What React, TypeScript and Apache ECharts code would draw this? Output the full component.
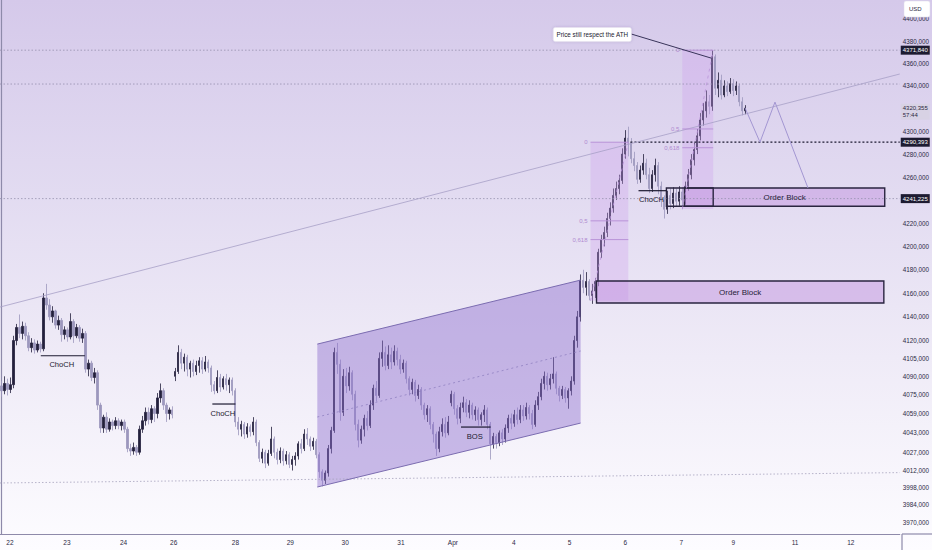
import React, { useEffect, useRef } from 'react';
import * as echarts from 'echarts';

// ---------------- data ----------------
const dayLabels = ['22', '23', '24', '26', '28', '29', '30', '31', 'Apr', '4', '5', '6', '7', '9', '11', '12'];
const dayPositions = [2.8, 21.8, 40.7, 57.4, 78.0, 96.3, 114.6, 133.2, 150.5, 170.8, 189.4, 208.0, 226.7, 244.0, 264.6, 283.2];
const priceTicks = [4400, 4380, 4360, 4340, 4300, 4280, 4260, 4220, 4200, 4180, 4160, 4140, 4120, 4105, 4090, 4075, 4059, 4043, 4027, 4012, 3998, 3984, 3970];
const axisPriceMin = 3960.3;
const axisPriceMax = 4416.9;
const slotCount = 300;

// [open, close, low, high]
const candles: number[][] = [
  [4082, 4078, 4073, 4086], [4078, 4084, 4075, 4090], [4084, 4079, 4074, 4088], [4079, 4083, 4076, 4089],
  [4083, 4120, 4080, 4124], [4120, 4131, 4116, 4134], [4131, 4126, 4122, 4142], [4126, 4132, 4121, 4136],
  [4132, 4124, 4120, 4135], [4124, 4114, 4111, 4127], [4114, 4118, 4110, 4122], [4118, 4112, 4109, 4121],
  [4112, 4117, 4110, 4120], [4117, 4113, 4110, 4119], [4113, 4156, 4111, 4160], [4156, 4150, 4146, 4168],
  [4150, 4140, 4137, 4155], [4140, 4145, 4135, 4149], [4145, 4133, 4130, 4146], [4133, 4137, 4129, 4141],
  [4137, 4125, 4119, 4139], [4125, 4129, 4121, 4132], [4129, 4123, 4119, 4131], [4123, 4136, 4121, 4143],
  [4136, 4124, 4118, 4138], [4124, 4131, 4122, 4134], [4131, 4122, 4119, 4133], [4122, 4126, 4118, 4130],
  [4126, 4096, 4093, 4128], [4096, 4101, 4090, 4104], [4101, 4089, 4086, 4103], [4089, 4093, 4084, 4097],
  [4093, 4066, 4062, 4095], [4066, 4047, 4043, 4068], [4047, 4056, 4043, 4058], [4056, 4046, 4043, 4060],
  [4046, 4052, 4044, 4055], [4052, 4049, 4045, 4054], [4049, 4053, 4046, 4056], [4053, 4049, 4046, 4055],
  [4049, 4052, 4045, 4054], [4052, 4046, 4043, 4054], [4046, 4030, 4027, 4048], [4030, 4028, 4024, 4034],
  [4028, 4031, 4025, 4035], [4031, 4027, 4024, 4033], [4027, 4046, 4025, 4049], [4046, 4053, 4043, 4057],
  [4053, 4060, 4049, 4064], [4060, 4054, 4050, 4064], [4054, 4063, 4051, 4066], [4063, 4059, 4052, 4065],
  [4059, 4072, 4055, 4076], [4072, 4078, 4068, 4084], [4078, 4066, 4062, 4080], [4066, 4059, 4052, 4068],
  [4059, 4062, 4054, 4064], [4062, 4058, 4055, 4065], [4090, 4094, 4086, 4097], [4094, 4110, 4092, 4116],
  [4110, 4101, 4096, 4113], [4101, 4106, 4094, 4109], [4106, 4096, 4090, 4108], [4096, 4101, 4089, 4103],
  [4101, 4094, 4090, 4104], [4094, 4099, 4091, 4103], [4099, 4103, 4093, 4106], [4103, 4096, 4092, 4106],
  [4096, 4102, 4094, 4107], [4102, 4097, 4093, 4104], [4097, 4083, 4077, 4099], [4083, 4078, 4075, 4086],
  [4078, 4089, 4076, 4095], [4089, 4081, 4077, 4092], [4081, 4088, 4079, 4090], [4088, 4083, 4078, 4092],
  [4083, 4087, 4076, 4089], [4087, 4078, 4074, 4089], [4078, 4052, 4048, 4080], [4052, 4046, 4041, 4056],
  [4046, 4050, 4040, 4053], [4050, 4042, 4038, 4052], [4042, 4048, 4039, 4051], [4048, 4044, 4040, 4050],
  [4044, 4052, 4041, 4056], [4052, 4035, 4032, 4054], [4035, 4022, 4019, 4037], [4022, 4027, 4018, 4030],
  [4027, 4018, 4014, 4029], [4018, 4026, 4016, 4029], [4026, 4038, 4024, 4048], [4038, 4027, 4022, 4040],
  [4027, 4021, 4017, 4030], [4021, 4028, 4018, 4031], [4028, 4020, 4016, 4030], [4020, 4025, 4017, 4028],
  [4025, 4017, 4014, 4027], [4017, 4021, 4012, 4024], [4021, 4024, 4016, 4027], [4024, 4034, 4021, 4036],
  [4034, 4030, 4026, 4038], [4030, 4042, 4028, 4046], [4042, 4038, 4033, 4047], [4038, 4032, 4028, 4040],
  [4032, 4036, 4029, 4039], [4036, 4025, 4022, 4038], [4025, 4011, 4006, 4027], [4011, 4004, 3999, 4013],
  [4004, 4010, 4001, 4012], [4010, 4030, 4007, 4033], [4030, 4045, 4026, 4048], [4045, 4110, 4043, 4114],
  [4110, 4100, 4092, 4118], [4100, 4060, 4053, 4104], [4060, 4090, 4057, 4096], [4090, 4082, 4076, 4097],
  [4082, 4093, 4078, 4098], [4093, 4075, 4070, 4095], [4075, 4050, 4045, 4078], [4050, 4037, 4031, 4054],
  [4037, 4046, 4034, 4049], [4046, 4055, 4040, 4058], [4055, 4049, 4045, 4061], [4049, 4066, 4047, 4070],
  [4066, 4080, 4062, 4083], [4080, 4074, 4069, 4086], [4074, 4105, 4072, 4110], [4105, 4110, 4098, 4120],
  [4110, 4099, 4095, 4115], [4099, 4108, 4096, 4116], [4108, 4102, 4096, 4114], [4102, 4111, 4099, 4116],
  [4111, 4104, 4099, 4114], [4104, 4096, 4092, 4108], [4096, 4101, 4093, 4104], [4101, 4088, 4084, 4103],
  [4088, 4079, 4074, 4090], [4079, 4085, 4075, 4088], [4085, 4074, 4069, 4087], [4074, 4079, 4071, 4083],
  [4079, 4066, 4062, 4081], [4066, 4058, 4054, 4068], [4058, 4063, 4052, 4066], [4063, 4050, 4046, 4065],
  [4050, 4042, 4035, 4052], [4042, 4030, 4024, 4044], [4030, 4044, 4027, 4048], [4044, 4050, 4040, 4055],
  [4050, 4043, 4039, 4056], [4043, 4052, 4041, 4057], [4068, 4075, 4065, 4078], [4075, 4063, 4058, 4077],
  [4063, 4055, 4050, 4066], [4055, 4064, 4051, 4068], [4064, 4068, 4060, 4073], [4068, 4060, 4056, 4071],
  [4060, 4066, 4055, 4070], [4066, 4058, 4054, 4068], [4058, 4062, 4053, 4065], [4062, 4054, 4049, 4064],
  [4054, 4058, 4049, 4060], [4058, 4062, 4052, 4066], [4062, 4050, 4046, 4064], [4050, 4034, 4021, 4052],
  [4034, 4040, 4030, 4043], [4040, 4035, 4030, 4042], [4035, 4043, 4032, 4045], [4043, 4038, 4033, 4046],
  [4038, 4047, 4035, 4050], [4047, 4055, 4043, 4058], [4055, 4051, 4046, 4059], [4051, 4058, 4048, 4062],
  [4058, 4054, 4050, 4064], [4054, 4062, 4051, 4066], [4062, 4057, 4053, 4066], [4057, 4064, 4054, 4068],
  [4064, 4059, 4054, 4066], [4059, 4050, 4046, 4062], [4050, 4066, 4048, 4070], [4066, 4073, 4062, 4077],
  [4073, 4084, 4070, 4088], [4084, 4090, 4079, 4094], [4090, 4083, 4078, 4093], [4083, 4088, 4079, 4092],
  [4088, 4092, 4084, 4106], [4092, 4080, 4075, 4094], [4080, 4074, 4069, 4082], [4074, 4079, 4071, 4082],
  [4079, 4072, 4068, 4081], [4072, 4078, 4063, 4080], [4078, 4086, 4074, 4090], [4086, 4120, 4083, 4124],
  [4120, 4140, 4114, 4145], [4140, 4171, 4136, 4176], [4171, 4165, 4160, 4180], [4165, 4170, 4158, 4178],
  [4170, 4158, 4154, 4172], [4158, 4162, 4151, 4168], [4162, 4170, 4156, 4173], [4170, 4195, 4166, 4198],
  [4195, 4206, 4190, 4210], [4206, 4212, 4200, 4217], [4212, 4224, 4208, 4229], [4224, 4233, 4218, 4238],
  [4233, 4244, 4229, 4250], [4244, 4250, 4240, 4256], [4250, 4257, 4245, 4262], [4257, 4280, 4254, 4285],
  [4280, 4294, 4276, 4301], [4294, 4290, 4278, 4304], [4290, 4276, 4272, 4294], [4276, 4270, 4265, 4282],
  [4270, 4258, 4254, 4273], [4258, 4266, 4255, 4270], [4266, 4272, 4262, 4280], [4272, 4262, 4258, 4276],
  [4262, 4250, 4246, 4268], [4250, 4262, 4247, 4266], [4262, 4270, 4256, 4276], [4270, 4252, 4245, 4273],
  [4252, 4240, 4234, 4256], [4240, 4232, 4224, 4244], [4232, 4244, 4228, 4248], [4244, 4237, 4232, 4250],
  [4237, 4246, 4233, 4251], [4246, 4239, 4234, 4250], [4239, 4247, 4235, 4252], [4247, 4240, 4232, 4251],
  [4240, 4252, 4236, 4256], [4252, 4262, 4248, 4267], [4262, 4275, 4258, 4280], [4275, 4284, 4270, 4290],
  [4284, 4296, 4280, 4302], [4296, 4310, 4292, 4316], [4310, 4318, 4305, 4325], [4318, 4326, 4312, 4336],
  [4326, 4322, 4315, 4332], [4322, 4366, 4318, 4371.84], [4366, 4338, 4332, 4368], [4338, 4345, 4330, 4352],
  [4345, 4332, 4328, 4350], [4332, 4340, 4330, 4345], [4340, 4335, 4331, 4344], [4335, 4342, 4333, 4347],
  [4342, 4336, 4331, 4346], [4336, 4340, 4332, 4344], [4340, 4326, 4322, 4342], [4326, 4318, 4314, 4330],
  [4318, 4320.355, 4315, 4323],
];

// ---------------- drawings (slot, price) ----------------
const trendLine = [[-0.5, 4148.3], [299.5, 4350.6]];
const floorLine = [[-0.5, 4001.8], [299.5, 4010.3]];
const channelTop = [[105.3, 4117.0], [193.1, 4171.2]];
const channelBottom = [[105.3, 3998.5], [193.1, 4051.1]];
const channelMid = [[105.3, 4056.1], [193.1, 4111.2]];
const greyLevels = [4371.84, 4341.7, 4241.225];
const keyLevel = { price: 4290.393, from: 209.7 };
const fibs = [
  { x0: 196.4, x1: 209.0, p0: 4290.393, p1: 4153.6 },
  { x0: 227.0, x1: 237.3, p0: 4371.84, p1: 4232.2 },
];
const fibRatios = [0, 0.5, 0.618];
const fibRatioLabels = ['0', '0,5', '0,618'];
const orderBlocks = [
  { x0: 198.4, x1: 294.2, top: 4170.4, bottom: 4151.7, label: 'Order Block' },
  { x0: 227.7, x1: 294.5, top: 4250.5, bottom: 4234.6, label: 'Order Block' },
];
const obMarker = { x0: 221.7, x1: 237.3, top: 4250.5, bottom: 4234.6 };
const structureBreaks = [
  { x0: 13.1, x1: 27.8, price: 4107.2, label: 'ChoCH' },
  { x0: 70.3, x1: 78.0, price: 4066.9, label: 'ChoCH' },
  { x0: 153.2, x1: 163.1, price: 4047.8, label: 'BOS' },
  { x0: 212.4, x1: 221.7, price: 4248.1, label: 'ChoCH' },
];
const projection = [[247.95, 4320.4], [252.9, 4290.4], [257.9, 4325.7], [268.9, 4250.5]];
const callout = { text: 'Price still respect the ATH', anchor: [210.0, 4385.4], target: [236.6, 4364.8] };
const priceTags = [
  { price: 4371.84, text: '4371,840', sub: '', dark: true },
  { price: 4320.355, text: '4320,355', sub: '57:44', dark: false },
  { price: 4290.393, text: '4290,393', sub: '', dark: true },
  { price: 4241.225, text: '4241,225', sub: '', dark: true },
];

const FONT = '"Liberation Sans", Arial, sans-serif';

function renderOverlay(params: any, api: any) {
  const cs = params.coordSys;
  const P = (i: number, p: number) => api.coord([i, Math.log(p)]);
  const ch: any[] = [];
  const seg = (a: number[], b: number[], stroke: string, lineWidth = 1, lineDash?: number[]) =>
    ch.push({ type: 'line', shape: { x1: a[0], y1: a[1], x2: b[0], y2: b[1] }, style: { stroke, lineWidth, lineDash, fill: 'none' } });
  const txt = (x: number, y: number, t: string, fill: string, fontSize: number, align = 'center') =>
    ch.push({ type: 'text', x, y, style: { text: t, fill, fontSize, fontFamily: FONT, align, verticalAlign: 'middle' } });
  const box = (x0: number, x1: number, pTop: number, pBot: number, style: any) => {
    const a = P(x0, pTop);
    const b = P(x1, pBot);
    ch.push({ type: 'rect', shape: { x: a[0], y: a[1], width: b[0] - a[0], height: b[1] - a[1] }, style });
  };

  // channel fill
  const tA = P(channelTop[0][0], channelTop[0][1]);
  const tB = P(channelTop[1][0], channelTop[1][1]);
  const bA = P(channelBottom[0][0], channelBottom[0][1]);
  const bB = P(channelBottom[1][0], channelBottom[1][1]);
  ch.push({ type: 'polygon', shape: { points: [tA, tB, bB, bA] }, style: { fill: 'rgba(138,108,205,0.44)' } });

  // fib zones
  fibs.forEach((f) => {
    box(f.x0, f.x1, f.p0, f.p1, { fill: 'rgba(205,160,235,0.32)' });
  });

  // order blocks
  orderBlocks.forEach((o) => {
    box(o.x0, o.x1, o.top, o.bottom, { fill: 'rgba(190,140,222,0.45)', stroke: '#2a2540', lineWidth: 1.4 });
  });
  box(obMarker.x0, obMarker.x1, obMarker.top, obMarker.bottom, { fill: 'none', stroke: '#2a2540', lineWidth: 1.4 });

  // horizontal grey levels
  greyLevels.forEach((p) => seg(P(-0.5, p), P(299.5, p), '#9590ad', 0.8, [1.5, 2]));
  // key level
  seg(P(keyLevel.from, keyLevel.price), P(299.5, keyLevel.price), '#1c1a30', 1.2, [2, 2]);

  // trend lines
  seg(P(trendLine[0][0], trendLine[0][1]), P(trendLine[1][0], trendLine[1][1]), '#a79fc6', 0.8);
  seg(P(floorLine[0][0], floorLine[0][1]), P(floorLine[1][0], floorLine[1][1]), '#a6a2bd', 0.8, [1.5, 2]);

  // channel lines
  seg(tA, tB, '#7b6cb0', 1);
  seg(bA, bB, '#7b6cb0', 1);
  seg(P(channelMid[0][0], channelMid[0][1]), P(channelMid[1][0], channelMid[1][1]), '#8f80c0', 0.8, [2, 3]);

  // fib levels and labels
  fibs.forEach((f) => {
    fibRatios.forEach((r, k) => {
      const p = f.p0 - r * (f.p0 - f.p1);
      const a = P(f.x0, p);
      const b = P(f.x1, p);
      seg(a, b, '#b993d8', 1);
      txt(a[0] - 3, a[1], fibRatioLabels[k], '#b08bd0', 6, 'right');
    });
    seg(P(f.x0, f.p1), P(f.x1, f.p0), '#b993d8', 0.8, [3, 4]);
  });

  // order block labels
  orderBlocks.forEach((o) => {
    const a = P((o.x0 + o.x1) / 2, o.top);
    const b = P((o.x0 + o.x1) / 2, o.bottom);
    txt(a[0], (a[1] + b[1]) / 2, o.label, '#262238', 8);
  });

  // structure breaks
  structureBreaks.forEach((s) => {
    const a = P(s.x0, s.price);
    const b = P(s.x1, s.price);
    seg(a, b, '#1c1a30', 1.2);
    txt((a[0] + b[0]) / 2 - 1, a[1] + 9, s.label, '#1c1a30', 7.6);
  });

  // projection path
  ch.push({
    type: 'polyline',
    shape: { points: projection.map((q) => P(q[0], q[1])) },
    style: { stroke: '#a396d2', lineWidth: 1, fill: 'none' },
  });

  // callout
  const ca = P(callout.anchor[0], callout.anchor[1]);
  const ct = P(callout.target[0], callout.target[1]);
  seg([ca[0], ca[1] - 1], ct, '#39345a', 1);
  ch.push({
    type: 'rect',
    shape: { x: ca[0] - 78, y: ca[1] - 7.5, width: 78, height: 14, r: 2 },
    style: { fill: '#ffffff', stroke: '#e6e2ee', lineWidth: 0.5, shadowBlur: 3, shadowColor: 'rgba(60,40,100,0.18)' },
  });
  txt(ca[0] - 39, ca[1] - 0.5, callout.text, '#1c1a30', 6.3);

  // price tags on the axis
  const right = cs.x + cs.width;
  priceTags.forEach((t) => {
    const y = P(0, t.price)[1];
    if (t.sub) {
      ch.push({ type: 'rect', shape: { x: right + 1, y: y - 4.5, width: 29, height: 16 }, style: { fill: '#d8d2e4' } });
      txt(right + 3, y, t.text, '#2a2740', 6, 'left');
      txt(right + 3, y + 6.5, t.sub, '#2a2740', 6, 'left');
    } else {
      ch.push({ type: 'rect', shape: { x: right + 1, y: y - 4.5, width: 29, height: 9 }, style: { fill: t.dark ? '#1d1b31' : '#d8d2e4' } });
      txt(right + 3, y, t.text, t.dark ? '#ffffff' : '#2a2740', 6, 'left');
    }
  });

  return { type: 'group', children: ch };
}

export default function App() {
  const ref = useRef<HTMLDivElement>(null);

  useEffect(() => {
    if (!ref.current) return;
    const chart = echarts.init(ref.current, undefined, { renderer: 'svg' });
    const candleData = candles.map((c, i) => [i, Math.log(c[0]), Math.log(c[1]), Math.log(c[2]), Math.log(c[3])]);

    chart.setOption({
      animation: false,
      backgroundColor: 'transparent',
      textStyle: { fontFamily: FONT },
      grid: { left: 0, right: 30, top: 0, bottom: 16, containLabel: false },
      xAxis: {
        type: 'value',
        min: -0.5,
        max: slotCount - 0.5,
        axisLine: { show: true, lineStyle: { color: '#8e8aaa', width: 1.2 } },
        axisTick: { show: false },
        splitLine: { show: false },
        axisLabel: {
          customValues: dayPositions,
          color: '#2c2a44',
          fontSize: 6.5,
          margin: 5,
          formatter: (v: number) => {
            const k = dayPositions.findIndex((d) => Math.abs(d - v) < 0.01);
            return k >= 0 ? dayLabels[k] : '';
          },
        },
      },
      yAxis: {
        type: 'value',
        position: 'right',
        min: Math.log(axisPriceMin),
        max: Math.log(axisPriceMax),
        axisLine: { show: true, lineStyle: { color: '#8e8aaa', width: 1.2 } },
        axisTick: { show: false },
        splitLine: { show: false },
        axisLabel: {
          customValues: priceTicks.map((p) => Math.log(p)),
          color: '#2c2a44',
          fontSize: 6.3,
          margin: 3,
          formatter: (v: number) => `${Math.round(Math.exp(v))},000`,
        },
      },
      series: [
        {
          type: 'candlestick',
          data: candleData,
          encode: { x: 0, y: [1, 2, 3, 4] },
          barWidth: 1.6,
          z: 2,
          itemStyle: {
            color: '#23203c',
            color0: '#9c97bd',
            borderColor: '#23203c',
            borderColor0: '#9c97bd',
            borderWidth: 0.8,
          },
        },
        {
          type: 'custom',
          renderItem: renderOverlay,
          data: [[0, Math.log(4100)]],
          encode: { x: 0, y: 1 },
          z: 5,
          silent: true,
          clip: false,
        },
      ],
      graphic: [
        { type: 'line', shape: { x1: 902, y1: 534, x2: 932, y2: 534 }, style: { stroke: '#8e8aaa', lineWidth: 1.2 }, z: 10 },
        { type: 'line', shape: { x1: 902, y1: 534, x2: 902, y2: 550 }, style: { stroke: '#8e8aaa', lineWidth: 1.2 }, z: 10 },
        { type: 'rect', shape: { x: 904, y: 1, width: 26, height: 16, r: 2 }, style: { fill: '#ffffff', stroke: '#ddd8e8', lineWidth: 0.5 }, z: 20 },
        { type: 'text', x: 909, y: 8.5, style: { text: 'USD', fill: '#2c2a44', fontSize: 6, fontFamily: FONT, verticalAlign: 'middle' }, z: 21 },
      ],
    });
    return () => chart.dispose();
  }, []);

  return (
    <div
      ref={ref}
      style={{
        position: 'fixed',
        left: 0,
        top: 0,
        width: 932,
        height: 550,
        background: 'linear-gradient(180deg, #d5c9ea 0%, #e2dbf1 35%, #efebf7 65%, #fdfcff 100%)',
      }}
    />
  );
}
